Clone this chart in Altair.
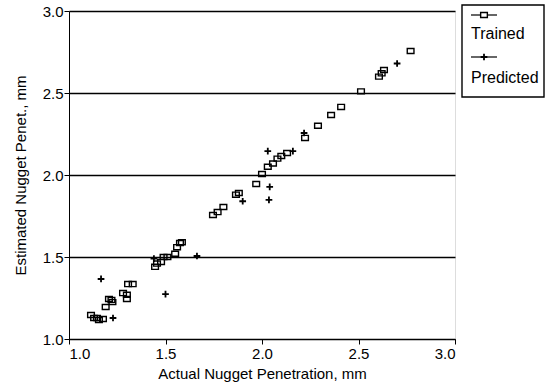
import altair as alt
import pandas as pd

trained_x = [1.114, 1.130, 1.145, 1.155, 1.176, 1.190, 1.207, 1.220, 1.225,
             1.280, 1.300, 1.300, 1.306, 1.330,
             1.446, 1.456, 1.477, 1.490, 1.510, 1.550, 1.560, 1.575, 1.585,
             1.746, 1.770, 1.800, 1.865, 1.880, 1.970, 2.000, 2.030, 2.057,
             2.080, 2.100, 2.130, 2.223, 2.290, 2.358, 2.410, 2.513, 2.606,
             2.620, 2.632, 2.770]
trained_y = [1.146, 1.128, 1.128, 1.116, 1.122, 1.195, 1.244, 1.238, 1.225,
             1.280, 1.270, 1.244, 1.335, 1.335,
             1.440, 1.460, 1.470, 1.500, 1.500, 1.520, 1.560, 1.585, 1.590,
             1.756, 1.774, 1.805, 1.880, 1.890, 1.945, 2.006, 2.050, 2.070,
             2.100, 2.116, 2.134, 2.226, 2.300, 2.366, 2.415, 2.510, 2.600,
             2.620, 2.640, 2.756]

pred_x = [1.166, 1.228, 1.440, 1.500, 1.663, 1.900, 2.036, 2.040, 2.030,
          2.160, 2.218, 2.700]
pred_y = [1.366, 1.128, 1.490, 1.274, 1.506, 1.840, 1.848, 1.927, 2.146,
          2.146, 2.256, 2.680]

legend_labels = ["Trained", "Predicted"]

FONT = "Liberation Sans"

df_t = pd.DataFrame({"x": trained_x, "y": trained_y})
df_p = pd.DataFrame({"x": pred_x, "y": pred_y})

xs = alt.Scale(domain=[1.0, 3.0], nice=False, zero=False)
ys = alt.Scale(domain=[1.0, 3.0], nice=False, zero=False)

xaxis = alt.Axis(values=[1.0, 1.5, 2.0, 2.5, 3.0], format=".1f", grid=False,
                 title="Actual Nugget Penetration, mm", domainColor="black",
                 tickColor="black", labelColor="black", titleColor="black",
                 labelFont=FONT, titleFont=FONT, labelFontSize=15, titleFontSize=15,
                 titleFontWeight="normal", tickSize=5, labelPadding=2, titlePadding=5)
yaxis = alt.Axis(values=[1.0, 1.5, 2.0, 2.5, 3.0], format=".1f", grid=True,
                 gridColor="black", gridWidth=1.4, gridOpacity=1,
                 title="Estimated Nugget Penet., mm", domainColor="black",
                 tickColor="black", labelColor="black", titleColor="black",
                 labelFont=FONT, titleFont=FONT, labelFontSize=15, titleFontSize=15,
                 titleFontWeight="normal", tickSize=5, labelPadding=1, titlePadding=14)

square_path = "M-1,-0.75H1V0.75H-1Z"
plus_path = "M-1,0H1M0,-1V1"

trained = alt.Chart(df_t).mark_point(shape=square_path, filled=False, color="black",
                                     strokeWidth=1.4, size=45, opacity=1).encode(
    x=alt.X("x:Q", scale=xs, axis=xaxis),
    y=alt.Y("y:Q", scale=ys, axis=yaxis),
)
pred = alt.Chart(df_p).mark_point(shape=plus_path, filled=False, color="black",
                                  strokeWidth=1.8, size=45, opacity=1).encode(
    x=alt.X("x:Q", scale=xs),
    y=alt.Y("y:Q", scale=ys),
)

# legend (drawn in pixel space to the right of the plot)
leg_box = alt.Chart(pd.DataFrame({"a": [0]})).mark_rect(
    fill="white", stroke="black", strokeWidth=1.4).encode(
    x=alt.value(393), x2=alt.value(475), y=alt.value(-6), y2=alt.value(86))
leg_df = pd.DataFrame({"label": legend_labels, "ly": [4, 46], "ty": [23, 67]})
leg_lines = alt.Chart(leg_df).mark_rule(color="black", strokeWidth=1.2).encode(
    x=alt.value(402), x2=alt.value(428), y=alt.Y("ly:Q", scale=None))
leg_sq = alt.Chart(leg_df.iloc[[0]]).mark_point(
    shape=square_path, filled=True, fill="white", stroke="black", strokeWidth=1.4,
    size=45, opacity=1).encode(x=alt.value(415), y=alt.Y("ly:Q", scale=None))
leg_plus = alt.Chart(leg_df.iloc[[1]]).mark_point(
    shape=plus_path, filled=False, color="black", strokeWidth=1.8, size=45, opacity=1).encode(
    x=alt.value(415), y=alt.Y("ly:Q", scale=None))
leg_text = alt.Chart(leg_df).mark_text(
    align="left", baseline="middle", font=FONT, fontSize=16, color="black").encode(
    x=alt.value(402), y=alt.Y("ty:Q", scale=None), text="label:N")

chart = alt.layer(trained, pred, leg_box, leg_lines, leg_sq, leg_plus, leg_text).properties(
    width=386, height=328,
    autosize=alt.AutoSizeParams(type="none"),
    padding={"left": 69, "top": 11, "right": 92, "bottom": 47},
).configure_view(stroke="black", strokeWidth=1.6).configure(background="white")

chart.save("out.html", embed_options={"renderer": "svg", "actions": False})
